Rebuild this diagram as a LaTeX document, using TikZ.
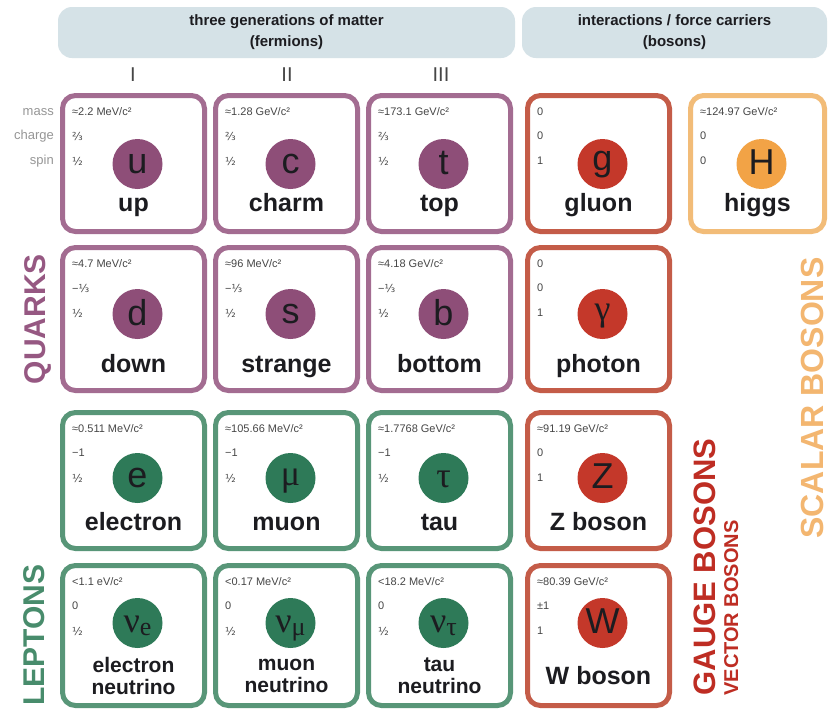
\documentclass[tikz,border=0pt]{standalone}
\usepackage{fontspec}
\setmainfont{Liberation Sans}
\newfontfamily\grk{Liberation Serif}
\newfontfamily\djv{DejaVu Sans}
\definecolor{qB}{RGB}{163,108,145}
\definecolor{qF}{RGB}{142,78,120}
\definecolor{qL}{RGB}{150,88,130}
\definecolor{lB}{RGB}{88,150,120}
\definecolor{lF}{RGB}{46,122,88}
\definecolor{lL}{RGB}{72,140,108}
\definecolor{bB}{RGB}{196,92,72}
\definecolor{bF}{RGB}{196,56,42}
\definecolor{bL}{RGB}{190,45,35}
\definecolor{hB}{RGB}{242,188,120}
\definecolor{hF}{RGB}{242,163,70}
\definecolor{hL}{RGB}{243,182,112}
\definecolor{hdrC}{RGB}{213,226,231}
\definecolor{ink}{RGB}{28,28,32}
\definecolor{smallink}{RGB}{70,70,70}
\definecolor{lblgray}{RGB}{150,150,150}
\newcommand\fr[1]{{\djv #1}}
\newcommand\nusub[1]{{\grk\fontsize{36}{36}\selectfont ν\raisebox{-3pt}{\fontsize{26}{26}\selectfont #1}}}
\def\cellW{147}\def\circY{164}\def\nameB{211}\def\nameSty{nameone}
% #1 id, #2 left, #3 top, #4 bottom, #5 family, #6 mass, #7 charge, #8 spin, #9 name
\newcommand\particle[9]{%
  \node[cellframe,#5frame,minimum width={(\cellW-5)*1pt},minimum height={(#4-#3-5)*1pt}] (#1) at (#2+\cellW/2,#3/2+#4/2) {};
  \node[masstext] (#1-m) at (#2+12,#3+19) {#6};
  \node[masstext] (#1-q) at (#2+12,#3+43) {#7};
  \node[masstext] (#1-s) at (#2+12,#3+68) {#8};
  \node[dot,#5dot] (#1-c) at (#2+\cellW/2+4,\circY) {};
  \node[\nameSty] (#1-n) at (#2+\cellW/2,\nameB) {#9};
}
% symbol in the circle, baseline #2 pt below the circle centre
\newcommand\sym[3]{\node[symtext] (#1-sym) at ([yshift=-#2pt]#1-c.center) {#3};}
\tikzset{
  cellframe/.style={rounded corners=13pt, line width=5pt, fill=white, inner sep=0pt},
  qframe/.style={draw=qB}, lframe/.style={draw=lB}, bframe/.style={draw=bB}, hframe/.style={draw=hB},
  qdot/.style={fill=qF}, ldot/.style={fill=lF}, bdot/.style={fill=bF}, hdot/.style={fill=hF},
  dot/.style={circle, minimum size=50pt, inner sep=0pt},
  symtext/.style={anchor=base, inner sep=0pt, text=ink, font=\fontsize{36}{36}\selectfont},
  masstext/.style={anchor=west, inner sep=0pt, text=smallink, font=\fontsize{11}{12}\selectfont},
  nameone/.style={anchor=base, inner sep=0pt, text=ink, font=\bfseries\fontsize{25}{26}\selectfont},
  nametwo/.style={anchor=center, inner sep=0pt, align=center, text=ink, font=\bfseries\fontsize{21}{22}\selectfont},
  hdr/.style={fill=hdrC, rounded corners=14pt, align=center, minimum height=51pt, text=ink, font=\bfseries\fontsize{15}{21}\selectfont},
  numeral/.style={inner sep=0pt, text=smallink, font=\fontsize{20}{20}\selectfont},
  sidelbl/.style={anchor=east, inner sep=0pt, text=lblgray, font=\fontsize{13}{13}\selectfont},
  grouplbl/.style={rotate=90, anchor=base, inner sep=0pt, font=\bfseries\fontsize{30}{30}\selectfont},
}
\begin{document}
\begin{tikzpicture}[x=1pt,y=-1pt]
\path[use as bounding box, fill=white] (0,0) rectangle (830,713);
% headers
\node[hdr, minimum width=457pt] (fermions) at (286.5,32.5) {three generations of matter\\(fermions)};
\node[hdr, minimum width=305pt] (bosons) at (674.5,32.5) {interactions / force carriers\\(bosons)};
\node[numeral] (gen1) at (133,75) {I};
\node[numeral] (gen2) at (287,75) {II};
\node[numeral] (gen3) at (441,75) {III};
% property labels
\node[sidelbl] (lmass) at (54,112) {mass};
\node[sidelbl] (lcharge) at (54,136) {charge};
\node[sidelbl] (lspin) at (54,161) {spin};
% row 1
\def\circY{164}\def\nameB{211}
\particle{up}{60}{93}{234}{q}{≈2.2 MeV/c²}{\fr{⅔}}{\fr{½}}{up}
\sym{up}{9}{u}
\particle{charm}{213}{93}{234}{q}{≈1.28 GeV/c²}{\fr{⅔}}{\fr{½}}{charm}
\sym{charm}{9}{c}
\particle{top}{366}{93}{234}{q}{≈173.1 GeV/c²}{\fr{⅔}}{\fr{½}}{top}
\sym{top}{10}{t}
\particle{gluon}{525}{93}{234}{b}{0}{0}{1}{gluon}
\sym{gluon}{6}{g}
\def\cellW{139}
\particle{higgs}{688}{93}{234}{h}{≈124.97 GeV/c²}{0}{0}{higgs}
\sym{higgs}{10}{H}
\def\cellW{147}
% row 2
\def\circY{314}\def\nameB{372}
\particle{down}{60}{245}{393}{q}{≈4.7 MeV/c²}{−\fr{⅓}}{\fr{½}}{down}
\sym{down}{11}{d}
\particle{strange}{213}{245}{393}{q}{≈96 MeV/c²}{−\fr{⅓}}{\fr{½}}{strange}
\sym{strange}{9}{s}
\particle{bottom}{366}{245}{393}{q}{≈4.18 GeV/c²}{−\fr{⅓}}{\fr{½}}{bottom}
\sym{bottom}{11}{b}
\particle{photon}{525}{245}{393}{b}{0}{0}{1}{photon}
\sym{photon}{6}{\grk γ}
% row 3
\def\circY{478}\def\nameB{530}
\particle{electron}{60}{410}{551}{l}{≈0.511 MeV/c²}{−1}{\fr{½}}{electron}
\sym{electron}{9}{e}
\particle{muon}{213}{410}{551}{l}{≈105.66 MeV/c²}{−1}{\fr{½}}{muon}
\sym{muon}{7}{\grk μ}
\particle{tau}{366}{410}{551}{l}{≈1.7768 GeV/c²}{−1}{\fr{½}}{tau}
\sym{tau}{9}{\grk τ}
\particle{zboson}{525}{410}{551}{b}{≈91.19 GeV/c²}{0}{1}{Z boson}
\sym{zboson}{10}{Z}
% row 4
\def\circY{623}\def\nameB{676}\def\nameSty{nametwo}
\particle{enu}{60}{563}{708}{l}{<1.1 eV/c²}{0}{\fr{½}}{electron\\neutrino}
\sym{enu}{9}{\nusub{e}}
\particle{munu}{213}{563}{708}{l}{<0.17 MeV/c²}{0}{\fr{½}}{muon\\neutrino}
\sym{munu}{9}{\nusub{μ}}
\particle{taunu}{366}{563}{708}{l}{<18.2 MeV/c²}{0}{\fr{½}}{tau\\neutrino}
\sym{taunu}{9}{\nusub{τ}}
\def\nameB{684}\def\nameSty{nameone}
\particle{wboson}{525}{563}{708}{b}{≈80.39 GeV/c²}{±1}{1}{W boson}
\sym{wboson}{10}{W}
% group labels
\node[grouplbl, text=qL] (quarks) at (45,319) {QUARKS};
\node[grouplbl, text=lL] (leptons) at (44,635) {LEPTONS};
\node[grouplbl, text=bL, font=\bfseries\fontsize{31}{31}\selectfont] (gauge) at (715,567) {GAUGE BOSONS};
\node[grouplbl, text=bL, font=\bfseries\fontsize{20}{20}\selectfont] (vector) at (738,608) {VECTOR BOSONS};
\node[grouplbl, text=hL, font=\bfseries\fontsize{32}{32}\selectfont] (scalar) at (823,398) {SCALAR BOSONS};
\end{tikzpicture}
\end{document}
